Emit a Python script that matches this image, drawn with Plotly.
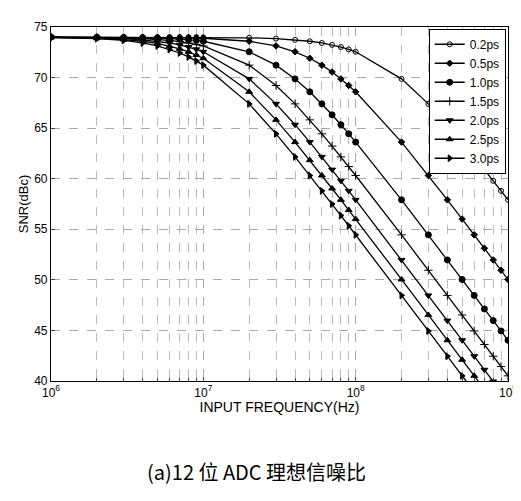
import plotly.graph_objects as go

freq = [1e6, 2e6, 3e6, 4e6, 5e6, 6e6, 7e6, 8e6, 9e6,
        1e7, 2e7, 3e7, 4e7, 5e7, 6e7, 7e7, 8e7, 9e7,
        1e8, 2e8, 3e8, 4e8, 5e8, 6e8, 7e8, 8e8, 9e8, 1e9]

snr_02 = [74.0, 74.0, 74.0, 74.0, 74.0, 74.0, 74.0, 74.0, 74.0, 73.98,
          73.93, 73.85, 73.73, 73.59, 73.42, 73.23, 73.02, 72.79, 72.55,
          69.87, 67.40, 65.34, 63.62, 62.16, 60.90, 59.79, 58.80, 57.91]
snr_05 = [74.0, 74.0, 73.99, 73.98, 73.97, 73.96, 73.95, 73.93, 73.91, 73.89,
          73.59, 73.13, 72.55, 71.91, 71.23, 70.55, 69.87, 69.22, 68.59,
          63.62, 60.32, 57.91, 56.01, 54.45, 53.12, 51.97, 50.95, 50.04]
snr_10 = [74.0, 73.98, 73.96, 73.93, 73.89, 73.85, 73.80, 73.73, 73.67, 73.59,
          72.55, 71.23, 69.87, 68.59, 67.40, 66.32, 65.34, 64.44, 63.62,
          57.91, 54.45, 51.97, 50.04, 48.46, 47.12, 45.97, 44.95, 44.03]
snr_15 = [73.99, 73.96, 73.91, 73.85, 73.76, 73.67, 73.55, 73.42, 73.28, 73.13,
          71.23, 69.22, 67.40, 65.82, 64.44, 63.23, 62.16, 61.20, 60.32,
          54.45, 50.95, 48.46, 46.53, 44.95, 43.61, 42.45, 41.43, 40.51]
snr_20 = [73.98, 73.93, 73.85, 73.73, 73.59, 73.42, 73.23, 73.02, 72.79, 72.55,
          69.87, 67.40, 65.34, 63.62, 62.16, 60.90, 59.79, 58.80, 57.91,
          51.97, 48.46, 45.97, 44.03, 42.45, 41.11, 39.95, 38.93, 38.02]
snr_25 = [73.97, 73.89, 73.76, 73.59, 73.38, 73.13, 72.85, 72.55, 72.23, 71.91,
          68.59, 65.82, 63.62, 61.83, 60.32, 59.03, 57.91, 56.91, 56.01,
          50.04, 46.53, 44.03, 42.10, 40.51, 39.17, 38.02, 36.99, 36.08]
snr_30 = [73.96, 73.85, 73.67, 73.42, 73.13, 72.79, 72.43, 72.04, 71.64, 71.23,
          67.40, 64.44, 62.16, 60.32, 58.80, 57.49, 56.36, 55.35, 54.45,
          48.46, 44.95, 42.45, 40.51, 38.93, 37.59, 36.43, 35.41, 34.49]

names = ["0.2ps", "0.5ps", "1.0ps", "1.5ps", "2.0ps", "2.5ps", "3.0ps"]
series = [snr_02, snr_05, snr_10, snr_15, snr_20, snr_25, snr_30]
symbols = ["circle-open", "diamond", "circle", "cross-thin-open", "triangle-down",
           "triangle-up", "triangle-right"]
sizes = [5, 5, 6, 6, 6, 6, 6]

fig = go.Figure()
for name, ys, sym, sz in zip(names, series, symbols, sizes):
    fig.add_trace(go.Scatter(
        x=freq, y=ys, name=name, mode="lines+markers",
        line=dict(color="black", width=1.3),
        marker=dict(symbol=sym, size=sz, color="black",
                    line=dict(color="black", width=1)),
        cliponaxis=True
    ))

tickvals = [1e6, 1e7, 1e8, 1e9]
ticktext = ["10<sup>6</sup>", "10<sup>7</sup>", "10<sup>8</sup>", "10<sup>9</sup>"]

fig.update_layout(
    width=521, height=501,
    margin=dict(l=43, r=21, t=15, b=128),
    paper_bgcolor="white", plot_bgcolor="white",
    font=dict(family="Liberation Sans, Arial", size=12, color="black"),
    legend=dict(x=0.995, y=0.995, xanchor="right", yanchor="top",
                bgcolor="white", bordercolor="black", borderwidth=1,
                font=dict(size=12), tracegroupgap=0, itemwidth=30),
    showlegend=True,
)
fig.update_xaxes(
    type="log", range=[6, 9], tickvals=tickvals, ticktext=ticktext,
    showline=True, linecolor="black", linewidth=1.2, mirror=True,
    ticks="inside", ticklen=4,
    showgrid=True, gridcolor="#aaaaaa", griddash="dash", gridwidth=1,
    minor=dict(showgrid=True, gridcolor="#bbbbbb", griddash="dash",
               dtick="D1", ticks="inside", ticklen=3),
    title=dict(text="INPUT FREQUENCY(Hz)", font=dict(size=14), standoff=2),
    zeroline=False,
)
fig.update_yaxes(
    range=[40, 75], dtick=5,
    showline=True, linecolor="black", linewidth=1.2, mirror=True,
    ticks="inside", ticklen=4,
    showgrid=True, gridcolor="#aaaaaa", griddash="dash", gridwidth=1,
    title=dict(text="SNR(dBc)", font=dict(size=13), standoff=2),
    zeroline=False,
)
fig.add_annotation(
    text="(a)12 位 ADC 理想信噪比", xref="paper", yref="paper",
    x=0.45, y=-0.255, xanchor="center", yanchor="middle", showarrow=False,
    font=dict(family="Noto Sans CJK SC", size=20, color="black")
)

fig.write_html("out.html")
